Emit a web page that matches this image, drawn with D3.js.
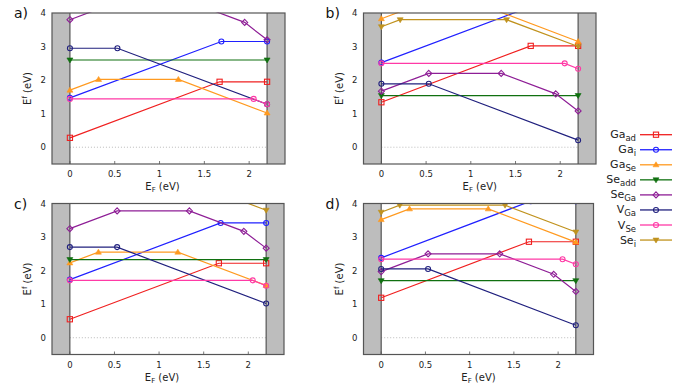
<!DOCTYPE html>
<html><head><meta charset="utf-8">
<script src="https://cdn.jsdelivr.net/npm/d3@7"></script>
<style>body{margin:0;background:#fff}svg{display:block}text{font-family:"DejaVu Sans",sans-serif}</style>
</head><body>
<svg id="c" width="684" height="385"></svg>
<script>
// ---- data ----
const panelLabels = ["a)", "b)", "c)", "d)"];
const xTicks = [0, 0.5, 1, 1.5, 2];
const yTicks = [0, 1, 2, 3, 4];
const bandGap = 2.2;
const seriesNames = ["Ga_ad", "Ga_i", "Ga_Se", "Se_add", "Se_Ga", "V_Ga", "V_Se", "Se_i"];
// points [E_F, E^f] per panel (a, b, c, d)
const gaAd = [
  [[0,0.28],[1.67,1.95],[2.2,1.95]],
  [[0,1.34],[1.67,3.02],[2.2,3.02]],
  [[0,0.55],[1.67,2.22],[2.2,2.22]],
  [[0,1.19],[1.67,2.86],[2.2,2.86]]];
const gaI = [
  [[0,1.47],[1.69,3.15],[2.2,3.15]],
  [[0,2.52],[1.69,4.21],[2.2,4.21]],
  [[0,1.73],[1.69,3.42],[2.2,3.42]],
  [[0,2.38],[1.69,4.07],[2.2,4.07]]];
const gaSe = [
  [[0,1.70],[0.32,2.02],[1.21,2.02],[2.2,1.02]],
  [[0,3.83],[0.32,4.15],[1.21,4.15],[2.2,3.15]],
  [[0,2.23],[0.32,2.55],[1.21,2.55],[2.2,1.56]],
  [[0,3.52],[0.32,3.84],[1.21,3.84],[2.2,2.85]]];
const seAdd = [
  [[0,2.60],[2.2,2.60]],
  [[0,1.54],[2.2,1.54]],
  [[0,2.33],[2.2,2.33]],
  [[0,1.70],[2.2,1.70]]];
const seGa = [
  [[0,3.80],[0.53,4.33],[1.34,4.33],[1.95,3.72],[2.2,3.20]],
  [[0,1.67],[0.53,2.20],[1.34,2.20],[1.95,1.59],[2.2,1.08]],
  [[0,3.25],[0.53,3.78],[1.34,3.78],[1.95,3.17],[2.2,2.67]],
  [[0,1.97],[0.53,2.50],[1.34,2.50],[1.95,1.89],[2.2,1.38]]];
const vGa = [
  [[0,2.95],[0.53,2.95],[2.2,1.28]],
  [[0,1.89],[0.53,1.89],[2.2,0.21]],
  [[0,2.70],[0.53,2.70],[2.2,1.02]],
  [[0,2.05],[0.53,2.05],[2.2,0.37]]];
const vSe = [
  [[0,1.44],[2.05,1.44],[2.2,1.28]],
  [[0,2.50],[2.05,2.50],[2.2,2.34]],
  [[0,1.71],[2.05,1.71],[2.2,1.55]],
  [[0,2.34],[2.05,2.34],[2.2,2.19]]];
const seI = [
  null,
  [[0,3.59],[0.21,3.80],[1.40,3.80],[2.2,3.00]],
  [[0,4.39],[0.21,4.60],[1.40,4.60],[2.2,3.80]],
  [[0,3.74],[0.21,3.95],[1.40,3.95],[2.2,3.15]]];

const seriesData = [gaAd, gaI, gaSe, seAdd, seGa, vGa, vSe, seI];
const colors = ["#f02020", "#2020ff", "#ff9a20", "#107010", "#8e1e96", "#20207e", "#ff3aa6", "#c0921e"];
const markers = ["square", "circle", "triup", "tridown", "diamond", "circle", "circle", "tridown"];
const legendMain = ["Ga", "Ga", "Ga", "Se", "Se", "V", "V", "Se"];
const legendSub = ["ad", "i", "Se", "add", "Ga", "Ga", "Se", "i"];

// ---- layout ----
const svg = d3.select("#c");
const frames = [
  {x: 52, y: 13, w: 233, h: 151},
  {x: 363.5, y: 13, w: 232.5, h: 151},
  {x: 52, y: 203.5, w: 232, h: 151},
  {x: 363.5, y: 203.5, w: 230, h: 151}];

function drawMarker(g, type, x, y, color) {
  if (type === "square") {
    g.append("rect").attr("x", x-2.6).attr("y", y-2.6).attr("width", 5.2).attr("height", 5.2)
      .attr("fill", "none").attr("stroke", color).attr("stroke-width", 1.1);
  } else if (type === "circle") {
    g.append("circle").attr("cx", x).attr("cy", y).attr("r", 2.5)
      .attr("fill", "none").attr("stroke", color).attr("stroke-width", 1.1);
  } else if (type === "diamond") {
    g.append("path").attr("d", `M${x},${y-3}L${x+3},${y}L${x},${y+3}L${x-3},${y}Z`)
      .attr("fill", "none").attr("stroke", color).attr("stroke-width", 1.1);
  } else if (type === "triup") {
    g.append("path").attr("d", `M${x},${y-3}L${x+3},${y+2}L${x-3},${y+2}Z`)
      .attr("fill", color).attr("stroke", color).attr("stroke-width", 0.6);
  } else if (type === "tridown") {
    g.append("path").attr("d", `M${x},${y+3}L${x+3},${y-2}L${x-3},${y-2}Z`)
      .attr("fill", color).attr("stroke", color).attr("stroke-width", 0.6);
  }
}

frames.forEach((f, p) => {
  const x = d3.scaleLinear().domain([-0.2, 2.4]).range([f.x, f.x + f.w]);
  const y = d3.scaleLinear().domain([-0.5, 4]).range([f.y + f.h, f.y]);
  const g = svg.append("g");
  const clipId = "clip" + p;
  svg.append("clipPath").attr("id", clipId).append("rect")
    .attr("x", f.x).attr("y", f.y - 0.5).attr("width", f.w).attr("height", f.h + 0.5);

  // grey regions
  g.append("rect").attr("x", x(-0.2)).attr("y", f.y).attr("width", x(0) - x(-0.2)).attr("height", f.h).attr("fill", "#bdbdbd");
  g.append("rect").attr("x", x(bandGap)).attr("y", f.y).attr("width", x(2.4) - x(bandGap)).attr("height", f.h).attr("fill", "#bdbdbd");
  // zero line
  g.append("line").attr("x1", x(0)).attr("x2", x(bandGap)).attr("y1", y(0)).attr("y2", y(0))
    .attr("stroke", "#aaa").attr("stroke-width", 0.8).attr("stroke-dasharray", "1,2");
  // band edges
  [0, bandGap].forEach(v => g.append("line").attr("x1", x(v)).attr("x2", x(v)).attr("y1", f.y).attr("y2", f.y + f.h)
    .attr("stroke", "#555").attr("stroke-width", 1.2));
  // ticks
  xTicks.forEach(t => {
    g.append("line").attr("x1", x(t)).attr("x2", x(t)).attr("y1", f.y + f.h).attr("y2", f.y + f.h - 3).attr("stroke", "#555").attr("stroke-width", 0.8);
    g.append("text").attr("x", x(t)).attr("y", f.y + f.h + 13).attr("text-anchor", "middle")
      .attr("font-size", 8.5).attr("fill", "#222").text(t === 0 ? "0" : d3.format("~g")(t));
  });
  yTicks.forEach(t => {
    g.append("text").attr("x", f.x - 6).attr("y", y(t) + 3).attr("text-anchor", "end")
      .attr("font-size", 8.5).attr("fill", "#222").text(t);
  });

  // series
  const pg = g.append("g").attr("clip-path", `url(#${clipId})`);
  const line = d3.line().x(d => x(d[0])).y(d => y(d[1]));
  seriesData.forEach((sd, i) => {
    const pts = sd[p];
    if (!pts) return;
    pg.append("path").attr("d", line(pts)).attr("fill", "none").attr("stroke", colors[i]).attr("stroke-width", 1.2);
    pts.forEach(d => drawMarker(pg, markers[i], x(d[0]), y(d[1]), colors[i]));
  });

  // frame
  g.append("rect").attr("x", f.x).attr("y", f.y).attr("width", f.w).attr("height", f.h)
    .attr("fill", "none").attr("stroke", "#555").attr("stroke-width", 1.2);

  // axis labels
  const left = p % 2 === 0;
  const xl = g.append("text").attr("x", f.x + f.w / 2 - (left ? 6 : 0)).attr("y", f.y + f.h + 26)
    .attr("text-anchor", "middle").attr("font-size", 10).attr("fill", "#222");
  xl.append("tspan").text("E");
  xl.append("tspan").attr("font-size", 7).attr("dy", 2).text("F");
  xl.append("tspan").attr("dy", -2).text(" (eV)");
  const yx = f.x - 21, yy = f.y + f.h / 2;
  const yl = g.append("text").attr("transform", `translate(${yx},${yy}) rotate(-90)`)
    .attr("text-anchor", "middle").attr("font-size", 10).attr("fill", "#222");
  yl.append("tspan").text("E");
  yl.append("tspan").attr("font-size", 7).attr("dy", -4).text("f");
  yl.append("tspan").attr("dy", 4).text(" (eV)");

  // panel label
  g.append("text").attr("x", f.x - 38).attr("y", f.y + 5).attr("font-size", 14).attr("fill", "#111").text(panelLabels[p]);
});

// legend
const lg = svg.append("g");
seriesNames.forEach((n, i) => {
  const yy = 134.7 + i * 15.05;
  const t = lg.append("text").attr("x", 636).attr("y", yy + 3.5).attr("text-anchor", "end")
    .attr("font-size", 11).attr("fill", "#222");
  t.append("tspan").text(legendMain[i]);
  t.append("tspan").attr("font-size", 8.5).attr("dy", 3).text(legendSub[i]);
  lg.append("line").attr("x1", 640).attr("x2", 672).attr("y1", yy).attr("y2", yy).attr("stroke", colors[i]).attr("stroke-width", 1.3);
  drawMarker(lg, markers[i], 656, yy, colors[i]);
});
</script>
</body></html>
